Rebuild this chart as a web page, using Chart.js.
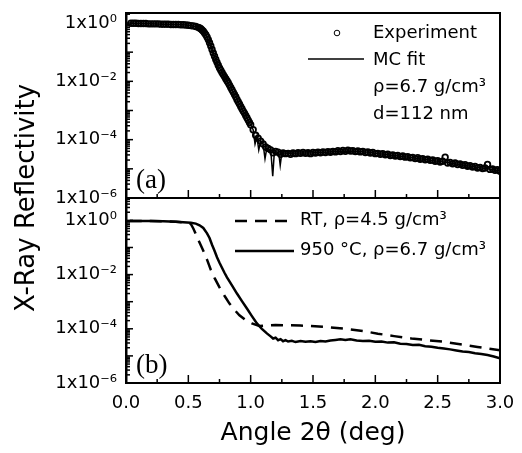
<!DOCTYPE html>
<html><head><meta charset="utf-8">
<script src="https://cdn.jsdelivr.net/npm/chart.js@4.4.1/dist/chart.umd.min.js"></script>
<style>html,body{margin:0;padding:0;background:#fff;}canvas{display:block;}</style>
</head><body>
<canvas id="c" width="522" height="453"></canvas>
<script>
// ---------- data ----------
const expAngleA = [
 0.04,0.06,0.08,0.10,0.12,0.14,0.16,0.18,0.20,0.22,0.24,0.26,0.28,0.30,0.32,0.34,0.36,0.38,0.40,0.42,0.44,0.46,0.48,0.50,0.52,0.54,0.56,
 0.58,0.59,0.60,0.61,0.62,0.63,0.64,0.65,0.66,0.67,0.68,0.69,0.70,0.71,0.72,0.73,0.74,0.75,0.76,0.77,0.78,0.79,0.80,0.81,0.82,0.83,0.84,0.85,0.86,0.87,0.88,0.89,0.90,0.91,0.92,0.93,0.94,0.95,0.96,0.97,0.98,0.99,1.00,
 1.02,1.04,1.06,1.08,1.10,1.12,1.14,1.16,1.18,1.20,
 1.22,1.24,1.26,1.28,1.30,1.32,1.34,1.36,1.38,1.40,
 1.42,1.44,1.46,1.48,1.50,1.52,1.54,1.56,1.58,1.60,
 1.62,1.64,1.66,1.68,1.70,1.72,1.74,1.76,1.78,1.80,
 1.82,1.84,1.86,1.88,1.90,1.92,1.94,1.96,1.98,2.00,
 2.02,2.04,2.06,2.08,2.10,2.12,2.14,2.16,2.18,2.20,
 2.22,2.24,2.26,2.28,2.30,2.32,2.34,2.36,2.38,2.40,
 2.42,2.44,2.46,2.48,2.50,2.52,2.54,2.56,2.58,2.60,
 2.62,2.64,2.66,2.68,2.70,2.72,2.74,2.76,2.78,2.80,
 2.82,2.84,2.86,2.88,2.90,2.92,2.94,2.96,2.98,3.00
];
const expReflA = [
 0.98,0.98,0.98,0.955,0.955,0.955,0.955,0.933,0.933,0.933,0.933,0.933,0.912,0.912,0.912,0.912,0.891,0.891,0.891,0.891,0.871,0.871,0.851,0.832,0.813,0.794,0.759,
 0.708,0.676,0.631,0.575,0.525,0.457,0.398,0.331,0.269,0.209,0.162,0.123,0.0933,0.0724,0.0562,0.0447,0.0355,0.0288,0.0240,0.0200,0.0170,0.0145,0.0123,0.0105,0.00891,0.00741,0.00617,0.00513,0.00427,0.00355,0.00295,0.00240,0.00200,0.00166,0.00138,0.00115,9.55e-4,8.13e-4,6.76e-4,5.62e-4,4.68e-4,3.89e-4,3.24e-4,
 2.19e-4,1.41e-4,1.12e-4,8.91e-5,7.08e-5,5.62e-5,5.01e-5,4.47e-5,3.55e-5,3.98e-5,
 3.72e-5,3.16e-5,3.47e-5,3.31e-5,3.39e-5,3.16e-5,3.47e-5,3.31e-5,3.55e-5,3.39e-5,
 3.63e-5,3.39e-5,3.55e-5,3.31e-5,3.63e-5,3.47e-5,3.72e-5,3.55e-5,3.80e-5,3.63e-5,
 3.89e-5,3.72e-5,3.98e-5,3.80e-5,4.17e-5,3.89e-5,4.27e-5,3.98e-5,4.37e-5,4.07e-5,
 4.17e-5,3.89e-5,4.07e-5,3.80e-5,3.98e-5,3.63e-5,3.80e-5,3.47e-5,3.63e-5,3.31e-5,
 3.39e-5,3.16e-5,3.31e-5,3.02e-5,3.16e-5,2.88e-5,3.02e-5,2.75e-5,2.88e-5,2.63e-5,
 2.75e-5,2.51e-5,2.63e-5,2.40e-5,2.45e-5,2.24e-5,2.40e-5,2.14e-5,2.24e-5,2.04e-5,
 2.14e-5,1.95e-5,2.00e-5,1.82e-5,1.91e-5,1.70e-5,1.82e-5,2.51e-5,1.58e-5,1.66e-5,
 1.48e-5,1.58e-5,1.41e-5,1.48e-5,1.32e-5,1.38e-5,1.23e-5,1.29e-5,1.15e-5,1.20e-5,
 1.07e-5,1.12e-5,1.02e-5,1.07e-5,1.41e-5,9.55e-6,1.00e-5,8.91e-6,9.33e-6,8.32e-6
];
const fitAngleA = [0.03,0.10,0.20,0.30,0.40,0.46,0.50,0.54,0.57,0.60,0.62,0.64,0.66,0.68,0.70,0.72,0.74,0.76,0.78,0.80,0.82,0.84,0.86,0.88,0.90,0.92,0.94,0.96,0.98,1.00,1.02,1.035,1.05,1.065,1.08,1.10,1.115,1.13,1.15,1.162,1.177,1.19,1.21,1.225,1.237,1.25,1.30,1.40,1.50,1.60,1.70,1.80,1.90,2.00,2.10,2.20,2.30,2.40,2.50,2.60,2.70,2.80,2.90,3.00];
const fitReflA = [0.98,0.955,0.933,0.912,0.891,0.871,0.832,0.794,0.741,0.631,0.525,0.398,0.269,0.162,0.0933,0.0562,0.0355,0.0240,0.0170,0.0123,0.00891,0.00617,0.00427,0.00295,0.00200,0.00138,9.55e-4,6.76e-4,4.68e-4,3.24e-4,2.19e-4,7.08e-5,1.26e-4,4.47e-5,8.91e-5,7.08e-5,2.24e-5,5.25e-5,4.68e-5,3.98e-5,5.62e-6,3.80e-5,3.80e-5,3.55e-5,1.32e-5,3.55e-5,3.39e-5,3.47e-5,3.55e-5,3.72e-5,3.98e-5,4.07e-5,3.89e-5,3.39e-5,3.02e-5,2.69e-5,2.40e-5,2.09e-5,1.82e-5,1.58e-5,1.35e-5,1.15e-5,1.00e-5,8.51e-6];

const rtAngleB = [0.03,0.10,0.20,0.30,0.40,0.46,0.50,0.52,0.54,0.56,0.58,0.60,0.62,0.65,0.68,0.71,0.75,0.79,0.83,0.87,0.91,0.96,1.01,1.07,1.12,1.20,1.40,1.60,1.75,1.90,2.02,2.15,2.29,2.42,2.55,2.70,2.82,3.00];
const rtReflB = [0.955,0.955,0.955,0.933,0.891,0.851,0.813,0.741,0.501,0.316,0.191,0.120,0.0759,0.0355,0.0151,0.00759,0.00339,0.00166,8.51e-4,5.01e-4,3.16e-4,2.09e-4,1.58e-4,1.26e-4,1.32e-4,1.38e-4,1.32e-4,1.17e-4,1.02e-4,8.32e-5,6.61e-5,5.37e-5,4.37e-5,3.80e-5,3.31e-5,2.63e-5,2.14e-5,1.62e-5];

const hotAngleB = [0.03,0.10,0.20,0.30,0.40,0.46,0.52,0.56,0.59,0.62,0.65,0.67,0.69,0.71,0.73,0.75,0.77,0.79,0.81,0.85,0.89,0.93,0.97,1.01,1.05,1.09,1.13,1.16,1.18,1.20,1.22,1.24,1.26,1.28,1.30,1.33,1.36,1.40,1.44,1.48,1.52,1.56,1.60,1.64,1.68,1.72,1.76,1.80,1.85,1.90,1.95,2.00,2.05,2.10,2.15,2.20,2.25,2.30,2.35,2.40,2.45,2.50,2.55,2.60,2.65,2.70,2.75,2.80,2.85,2.90,2.95,3.00];
const hotReflB = [0.955,0.955,0.955,0.933,0.891,0.851,0.813,0.759,0.661,0.525,0.331,0.224,0.126,0.0759,0.0437,0.0275,0.0178,0.0117,0.00794,0.00398,0.00200,0.00105,5.62e-4,2.95e-4,1.58e-4,1.00e-4,6.76e-5,5.25e-5,4.37e-5,4.68e-5,3.80e-5,4.17e-5,3.47e-5,3.80e-5,3.39e-5,3.63e-5,3.24e-5,3.55e-5,3.31e-5,3.47e-5,3.24e-5,3.55e-5,3.39e-5,3.72e-5,3.89e-5,4.07e-5,3.89e-5,4.07e-5,3.72e-5,3.55e-5,3.63e-5,3.31e-5,3.39e-5,3.09e-5,3.16e-5,2.82e-5,2.75e-5,2.51e-5,2.57e-5,2.29e-5,2.19e-5,2.00e-5,1.86e-5,1.74e-5,1.58e-5,1.45e-5,1.38e-5,1.26e-5,1.17e-5,1.07e-5,9.55e-6,8.13e-6];

const xTickValues = [0, 0.5, 1.0, 1.5, 2.0, 2.5, 3.0];
const xTickLabels = ['0.0','0.5','1.0','1.5','2.0','2.5','3.0'];
const yTickValues = [1, 1e-2, 1e-4, 1e-6];
const yTickLabels = ['1x10\u2070','1x10\u207B\u00B2','1x10\u207B\u2074','1x10\u207B\u2076'];
const legendTextA = ['Experiment','MC fit','\u03C1=6.7 g/cm\u00B3','d=112 nm'];
const legendTextB = ['RT, \u03C1=4.5 g/cm\u00B3','950 \u00B0C, \u03C1=6.7 g/cm\u00B3'];
const panelLabels = ['(a)','(b)'];
const xTitle = 'Angle 2\u03B8 (deg)';
const yTitle = 'X-Ray Reflectivity';

// ---------- chart ----------
const FONT = '"DejaVu Sans", sans-serif';
const pts = (xs, ys) => xs.map((x, i) => ({x: x, y: ys[i]}));

function yScale(maxVal) {
  return {
    type: 'logarithmic', position: 'left', stack: 'panels', stackWeight: 1,
    min: 1e-6, max: maxVal, bounds: 'data',
    afterBuildTicks: s => { s.ticks = yTickValues.map(v => ({value: v})); },
    ticks: { callback: (v, i) => yTickLabels[i], font: {family: FONT, size: 18}, color: '#000', padding: 9, autoSkip: false, maxRotation: 0 },
    grid: { display: false, drawTicks: false },
    border: { display: true, color: '#000', width: 2.5 },
    afterFit: s => { s.width = 82.8; s.paddingTop = 0; s.paddingBottom = 0; }
  };
}

const decor = {
  id: 'decor',
  afterDatasetsDraw(chart) {
    const {ctx, chartArea: a, scales} = chart;
    const yA = scales.yA, yB = scales.yB, x = scales.x;
    ctx.save();
    ctx.strokeStyle = '#000';
    ctx.lineWidth = 2;
    ctx.beginPath();
    ctx.moveTo(a.left, a.top); ctx.lineTo(a.right, a.top); ctx.lineTo(a.right, a.bottom);
    ctx.moveTo(a.left, yA.bottom); ctx.lineTo(a.right, yA.bottom);
    ctx.stroke();
    const seg = (x1, y1, x2, y2) => { ctx.beginPath(); ctx.moveTo(x1, y1); ctx.lineTo(x2, y2); ctx.stroke(); };
    ctx.lineWidth = 1.5;
    [yA, yB].forEach(s => {
      for (let d = -6; d <= 0; d++) {
        for (let m = 1; m <= 9; m++) {
          const v = m * Math.pow(10, d);
          if (v < s.min * 1.001 || v > s.max * 0.999) continue;
          const py = s.getPixelForValue(v);
          seg(a.left, py, a.left + (m === 1 ? 7 : 4), py);
        }
      }
    });
    [yA.bottom, yB.bottom].forEach(by => {
      for (let i = 0; i < xTickValues.length; i++) {
        const px = x.getPixelForValue(xTickValues[i]);
        if (i > 0 && i < xTickValues.length - 1) seg(px, by, px, by - 8);
        if (i < xTickValues.length - 1) {
          const pm = x.getPixelForValue((xTickValues[i] + xTickValues[i + 1]) / 2);
          seg(pm, by, pm, by - 4);
        }
      }
    });
    // legends
    ctx.fillStyle = '#000';
    ctx.font = '18px ' + FONT;
    ctx.textBaseline = 'middle';
    ctx.textAlign = 'left';
    // panel (a)
    ctx.lineWidth = 1;
    ctx.beginPath(); ctx.arc(337, 33, 2.8, 0, Math.PI * 2); ctx.stroke();
    ctx.fillText(legendTextA[0], 373, 33);
    ctx.lineWidth = 1.5;
    seg(308, 59, 364, 59);
    ctx.fillText(legendTextA[1], 373, 60);
    ctx.fillText(legendTextA[2], 373, 87);
    ctx.fillText(legendTextA[3], 373, 114);
    // panel (b)
    ctx.lineWidth = 2.5;
    ctx.setLineDash([12, 8]);
    seg(235, 221, 294, 221);
    ctx.setLineDash([]);
    seg(235, 251, 294, 251);
    ctx.fillText(legendTextB[0], 300, 220);
    ctx.fillText(legendTextB[1], 300, 250);
    // panel labels
    ctx.font = '27px "Liberation Serif", serif';
    ctx.fillText(panelLabels[0], 136, 181);
    ctx.fillText(panelLabels[1], 136, 366);
    ctx.restore();
  }
};

new Chart(document.getElementById('c'), {
  type: 'scatter',
  data: {
    datasets: [
      { label: 'MC fit', data: pts(fitAngleA, fitReflA), xAxisID: 'x', yAxisID: 'yA', showLine: true,
        borderColor: '#000', borderWidth: 1.5, pointRadius: 0, tension: 0, order: 1 },
      { label: 'Experiment', data: pts(expAngleA, expReflA), xAxisID: 'x', yAxisID: 'yA', showLine: false,
        pointStyle: 'circle', pointRadius: 2.8, borderColor: '#000', borderWidth: 1.8, backgroundColor: 'rgba(0,0,0,0)', order: 2 },
      { label: 'RT', data: pts(rtAngleB, rtReflB), xAxisID: 'x', yAxisID: 'yB', showLine: true,
        borderColor: '#000', borderWidth: 2.5, borderDash: [12, 8], pointRadius: 0, tension: 0, order: 3 },
      { label: '950 °C', data: pts(hotAngleB, hotReflB), xAxisID: 'x', yAxisID: 'yB', showLine: true,
        borderColor: '#000', borderWidth: 2.5, pointRadius: 0, tension: 0, order: 4 }
    ]
  },
  options: {
    responsive: false, animation: false, events: [],
    layout: { padding: { left: 0, right: 22, top: 13, bottom: 0 } },
    plugins: {
      legend: { display: false }, tooltip: { enabled: false },
      title: { display: true, position: 'left', fullSize: false, text: yTitle, color: '#000',
        font: { family: FONT, size: 26, weight: 'normal', lineHeight: 1.2 }, padding: { top: 12, bottom: 0 } }
    },
    scales: {
      x: {
        type: 'linear', position: 'bottom', min: 0, max: 3,
        afterBuildTicks: s => { s.ticks = xTickValues.map(v => ({value: v})); },
        ticks: { callback: (v, i) => xTickLabels[i], font: {family: FONT, size: 18}, color: '#000', padding: 10, autoSkip: false, maxRotation: 0 },
        grid: { display: false, drawTicks: false },
        border: { display: true, color: '#000', width: 2 },
        title: { display: true, text: xTitle, color: '#000', font: {family: FONT, size: 25, lineHeight: 1.2}, padding: {top: 0, bottom: 5} },
        afterFit: s => { s.height = 70; s.paddingLeft = 0; s.paddingRight = 0; }
      },
      yB: yScale(6.7),
      yA: yScale(2.2)
    }
  },
  plugins: [decor]
});
</script>
</body></html>
